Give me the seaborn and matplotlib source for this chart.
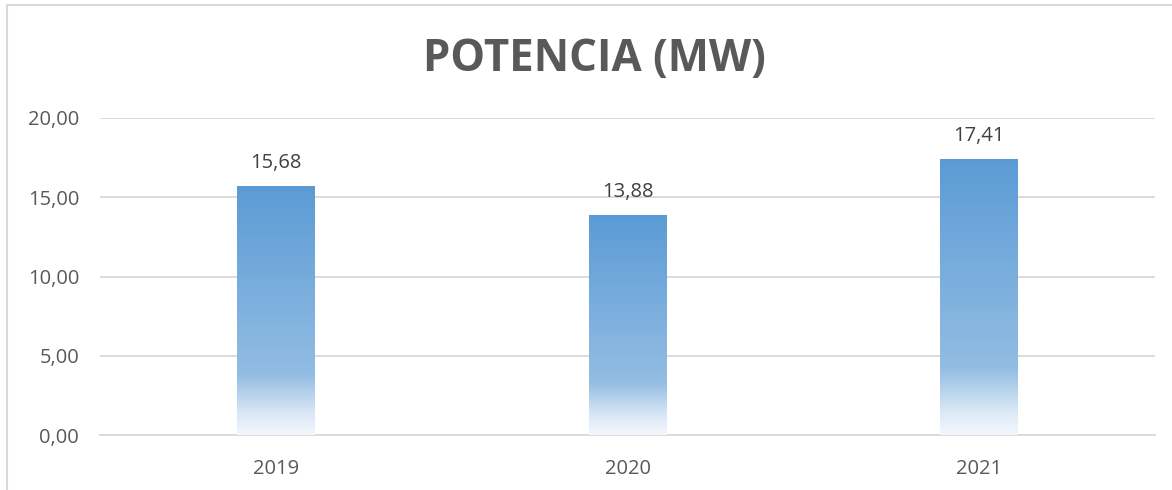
import numpy as np
import pandas as pd
import matplotlib
matplotlib.use("Agg")
import matplotlib.pyplot as plt
import seaborn as sns
from matplotlib.colors import LinearSegmentedColormap
from matplotlib.patches import Rectangle

years = ["2019", "2020", "2021"]
values = [15.68, 13.88, 17.41]
yticks = [0, 5, 10, 15, 20]
title = "POTENCIA (MW)"

sns.set_style("white")
plt.rcParams['font.family'] = ['Open Sans', 'DejaVu Sans']

fig = plt.figure(figsize=(11.72, 4.9), dpi=100)
ax = fig.add_axes([100/1172, 1-435/490, 1055/1172, (435-118)/490])

df = pd.DataFrame({"year": years, "value": values})
sns.barplot(data=df, x="year", y="value", ax=ax, width=0.22, color="#5B9BD5", zorder=3)

ax.set_ylim(0, 20)
ax.set_xlim(-0.5, 2.5)
ax.set_yticks(yticks)
ax.set_yticklabels([f"{v:.2f}".replace(".", ",") for v in yticks])
ax.grid(axis="y", color="#D9D9D9", linewidth=1.3, zorder=0)
ax.set_axisbelow(True)
for s in ["top", "right", "left"]:
    ax.spines[s].set_visible(False)
ax.spines["bottom"].set_color("#D9D9D9")
ax.spines["bottom"].set_linewidth(1.3)
ax.tick_params(axis="both", length=0, labelsize=14.5, colors="#595959")
ax.tick_params(axis="y", pad=15)
ax.tick_params(axis="x", pad=17)
ax.set_xlabel("")
ax.set_ylabel("")

cmap = LinearSegmentedColormap.from_list("g", [
    (0.0, "#F3F7FC"), (0.08, "#DCE9F6"), (0.24, "#93BDE3"), (1.0, "#5B9BD5")])
grad = np.linspace(0, 1, 256).reshape(-1, 1)
for p, v in zip(ax.patches, values):
    x0, w = p.get_x(), p.get_width()
    h = p.get_height()
    p.set_visible(False)
    ax.imshow(grad, extent=[x0, x0 + w, 0, h], origin="lower", aspect="auto",
              cmap=cmap, zorder=3, interpolation="bicubic")
    ax.text(x0 + w/2, h + 0.85, f"{v:.2f}".replace(".", ","), ha="center", va="bottom",
            fontsize=14.5, color="#404040")
ax.set_xlim(-0.5, 2.5)
ax.set_ylim(0, 20)
ax.set_aspect("auto")

fig.text(594.5/1172, 1-59/490, title, ha="center", va="center", fontsize=31.5,
         fontweight="bold", color="#595959")

fig.patches.append(Rectangle((6.5/1172, -0.1), 1.2, 1 - 5.5/490 + 0.1,
                             transform=fig.transFigure, fill=False,
                             edgecolor="#D9D9D9", linewidth=1.5, zorder=0))

fig.savefig("out.png", dpi=100)
